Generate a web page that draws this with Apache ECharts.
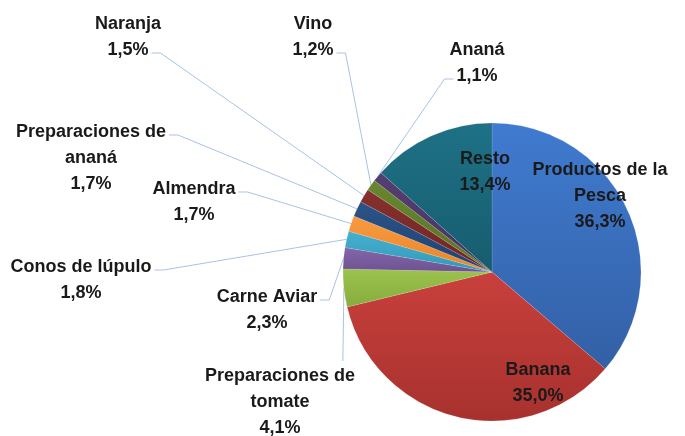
<!DOCTYPE html>
<html>
<head>
<meta charset="utf-8">
<script src="https://cdn.jsdelivr.net/npm/echarts@6/dist/echarts.min.js"></script>
<style>
  html, body { margin: 0; padding: 0; background: #fff; }
  #chart { width: 685px; height: 436px; }
</style>
</head>
<body>
<div id="chart"></div>
<script>
// slices, clockwise from 12 o'clock
const categories = [
  'Productos de la Pesca', 'Banana', 'Preparaciones de tomate', 'Carne Aviar',
  'Conos de lúpulo', 'Almendra', 'Preparaciones de ananá', 'Naranja',
  'Vino', 'Ananá', 'Resto'
]
const shares = [36.3, 35.0, 4.1, 2.3, 1.8, 1.7, 1.7, 1.5, 1.2, 1.1, 13.4]
const insideLabels = ['Productos de la Pesca', 'Banana', 'Resto']

// [top, bottom] gradient colours per slice
const palette = [
  ['#407bd0', '#3360a6'], ['#c9403c', '#a7312e'], ['#9cc24f', '#86ac3c'],
  ['#8466aa', '#6d5290'], ['#45b0d0', '#3498b8'], ['#f89a42', '#ea8428'],
  ['#2b5488', '#1f4170'], ['#86302d', '#712523'], ['#68862f', '#587326'],
  ['#553f70', '#46325e'], ['#1e7186', '#175c6e']
]

// label block centres (px)
const labelPos = [
  [600, 196], [538, 383], [280, 402], [267, 310],
  [81, 280], [194, 202], [91, 158], [128, 37],
  [313, 37], [477, 63], [485, 172]
]
// where the leader line meets the label: side + text line index
const lineAttach = [
  null, null, ['t', 0], ['r', 0],
  ['r', 0], ['r', 0], ['r', 0], ['r', -1],
  ['r', -1], ['l', -1], null
]

const FONT_SIZE = 18
const LINE_H = 26
const FONT = 'bold ' + FONT_SIZE + 'px "Liberation Sans"'

const fmt = v => v.toFixed(1).replace('.', ',') + '%'
const wrapName = name => {
  if (name.length <= 18) return name
  const i = name.lastIndexOf(' ')
  return name.slice(0, i) + '\n' + name.slice(i + 1)
}
const labelText = i => wrapName(categories[i]) + '\n' + fmt(shares[i])

const measureCtx = document.createElement('canvas').getContext('2d')
measureCtx.font = FONT
const textW = s => measureCtx.measureText(s).width

const guidePoints = p => {
  const spec = lineAttach[p.dataIndex]
  const start = p.labelLinePoints && p.labelLinePoints[0]
  if (!spec || !start) return undefined
  const [cx, cy] = labelPos[p.dataIndex]
  const lines = labelText(p.dataIndex).split('\n')
  const k = spec[1] < 0 ? lines.length + spec[1] : spec[1]
  const ly = cy + (k - (lines.length - 1) / 2) * LINE_H + 3
  const half = textW(lines[k]) / 2
  if (spec[0] === 'r') {
    const ax = cx + half + 3
    return [start, [ax + 9, ly], [ax, ly]]
  }
  if (spec[0] === 'l') {
    const ax = cx - half - 3
    return [start, [ax - 9, ly], [ax, ly]]
  }
  const top = cy - lines.length * LINE_H / 2 - 2
  return [start, [start[0] - 1, top], [start[0] - 1, top]]
}

const chart = echarts.init(document.getElementById('chart'))

const option = {
  backgroundColor: '#fff',
  animation: false,
  series: [
    {
      type: 'pie',
      center: [492, 272],
      radius: 149,
      startAngle: 90,
      clockwise: true,
      avoidLabelOverlap: false,
      label: {
        show: true,
        position: 'outside',
        fontFamily: 'Liberation Sans',
        fontWeight: 'bold',
        fontSize: FONT_SIZE,
        lineHeight: LINE_H,
        color: '#1a1a1a',
        align: 'center',
        formatter: p => labelText(p.dataIndex)
      },
      labelLine: {
        show: true,
        length: 10,
        length2: 10,
        lineStyle: { color: '#a8c3e6', width: 1 }
      },
      labelLayout: p => ({
        x: labelPos[p.dataIndex][0],
        y: labelPos[p.dataIndex][1],
        align: 'center',
        verticalAlign: 'middle',
        labelLinePoints: guidePoints(p)
      }),
      itemStyle: {
        borderColor: 'rgba(255,255,255,0.25)',
        borderWidth: 0.5
      },
      data: categories.map((name, i) => {
        const inside = insideLabels.includes(name)
        return {
          name,
          value: shares[i],
          itemStyle: {
            color: {
              type: 'linear', x: 0, y: 0, x2: 0, y2: 1,
              colorStops: [
                { offset: 0, color: palette[i][0] },
                { offset: 1, color: palette[i][1] }
              ]
            }
          },
          label: inside ? { position: 'inside' } : undefined,
          labelLine: inside ? { show: false } : undefined
        }
      })
    }
  ]
}

chart.setOption(option)
</script>
</body>
</html>
